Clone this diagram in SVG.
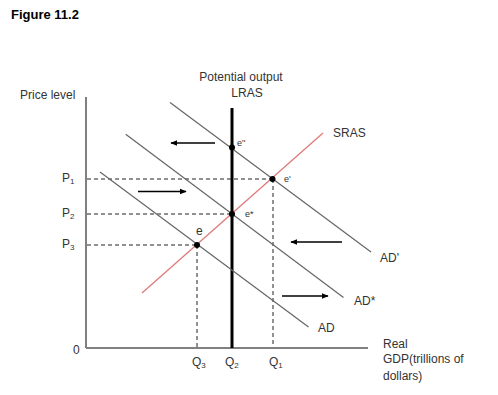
<svg xmlns="http://www.w3.org/2000/svg" width="498" height="395" viewBox="0 0 498 395">
<defs>
<style>
text{font-family:"Liberation Sans",Arial,sans-serif;fill:#333;}
.lbl{font-size:12px;}
.sm{font-size:8px;}
.axis{stroke:#808080;stroke-width:2;fill:none;}
.ad{stroke:#666;stroke-width:1.2;fill:none;}
.dash{stroke:#222;stroke-width:1;stroke-dasharray:4,3;fill:none;}
.arr{stroke:#000;stroke-width:1.3;fill:none;marker-end:url(#ah);}
</style>
<marker id="ah" viewBox="0 0 10 10" refX="9" refY="5" markerWidth="7" markerHeight="7" markerUnits="userSpaceOnUse" orient="auto">
<path d="M0,1 L10,5 L0,9 Z" fill="#000"/>
</marker>
</defs>
<rect width="498" height="395" fill="#fff"/>
<text x="11" y="19" font-size="13" font-weight="bold" style="fill:#000">Figure 11.2</text>

<g id="axes">
<line class="axis" x1="86" y1="97" x2="86" y2="348"/>
<line class="axis" x1="86" y1="348" x2="368" y2="348"/>
<text class="lbl" x="20" y="99">Price level</text>
<text class="lbl" x="73" y="354">0</text>
<text class="lbl" x="383" y="348">Real</text>
<text class="lbl" x="383" y="363">GDP(trillions of</text>
<text class="lbl" x="383" y="380">dollars)</text>
</g>

<g id="connectors">
<line class="dash" x1="87" y1="179" x2="272" y2="179"/>
<line class="dash" x1="87" y1="214" x2="231" y2="214"/>
<line class="dash" x1="87" y1="245" x2="197" y2="245"/>
<line class="dash" x1="197" y1="245" x2="197" y2="347"/>
<line class="dash" x1="273" y1="179" x2="273" y2="347"/>
<line class="arr" x1="215" y1="143" x2="171" y2="143"/>
<line class="arr" x1="138" y1="191.5" x2="186" y2="191.5"/>
<line class="arr" x1="342" y1="242" x2="291" y2="242"/>
<line class="arr" x1="282" y1="296" x2="328" y2="296"/>
</g>

<g id="LRAS">
<line x1="232" y1="108" x2="232" y2="348" stroke="#000" stroke-width="3"/>
<text class="lbl" x="241" y="81" text-anchor="middle">Potential output</text>
<text class="lbl" x="247" y="97" text-anchor="middle">LRAS</text>
<text class="lbl" x="225" y="366" font-size="11">Q<tspan class="sm" dy="2">2</tspan></text>
</g>

<g id="SRAS">
<line x1="142" y1="293" x2="323" y2="133" stroke="#e07a7a" stroke-width="1.3"/>
<text class="lbl" x="333" y="137">SRAS</text>
</g>

<g id="ADprime">
<line class="ad" x1="170" y1="102.5" x2="371" y2="252"/>
<text class="lbl" x="380" y="262">AD'</text>
</g>

<g id="ADstar">
<line class="ad" x1="125.7" y1="134.3" x2="343.5" y2="297.5"/>
<text class="lbl" x="354" y="305">AD*</text>
</g>

<g id="AD">
<line class="ad" x1="100" y1="172" x2="308.5" y2="327"/>
<text class="lbl" x="318" y="332">AD</text>
</g>

<g id="e2">
<circle cx="232" cy="147.5" r="3" fill="#000"/>
<text x="237" y="146" font-size="9">e''</text>
</g>
<g id="eprime">
<circle cx="272.5" cy="179" r="3" fill="#000"/>
<text x="284" y="182" font-size="9">e'</text>
</g>
<g id="estar">
<circle cx="232" cy="214" r="3" fill="#000"/>
<text x="245" y="217" font-size="9">e*</text>
</g>
<g id="e">
<circle cx="197" cy="245" r="3" fill="#000"/>
<text class="lbl" x="196" y="235">e</text>
</g>

<g id="P1"><text class="lbl" x="62" y="182" font-size="11">P<tspan class="sm" dy="2">1</tspan></text></g>
<g id="P2"><text class="lbl" x="62" y="217" font-size="11">P<tspan class="sm" dy="2">2</tspan></text></g>
<g id="P3"><text class="lbl" x="62" y="248" font-size="11">P<tspan class="sm" dy="2">3</tspan></text></g>
<g id="Q3"><text class="lbl" x="192" y="366" font-size="11">Q<tspan class="sm" dy="2">3</tspan></text></g>
<g id="Q1"><text class="lbl" x="269" y="366" font-size="11">Q<tspan class="sm" dy="2">1</tspan></text></g>
</svg>
